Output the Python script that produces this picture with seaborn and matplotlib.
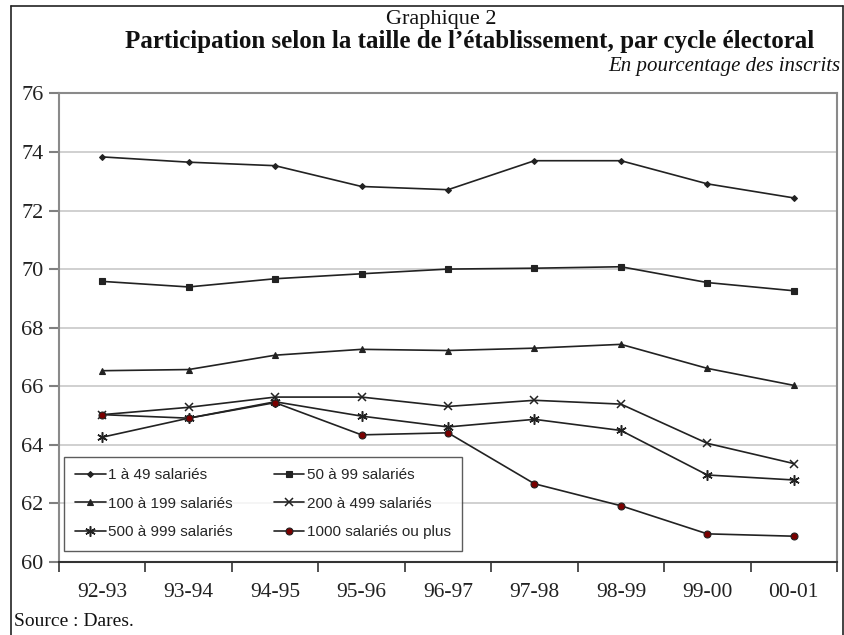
import matplotlib
matplotlib.use("Agg")
import matplotlib.pyplot as plt
import seaborn as sns
import pandas as pd
import numpy as np

cycles = ["92-93", "93-94", "94-95", "95-96", "96-97", "97-98", "98-99", "99-00", "00-01"]
s_1_49 = [73.83, 73.65, 73.53, 72.82, 72.71, 73.70, 73.70, 72.91, 72.43]
s_50_99 = [69.58, 69.39, 69.67, 69.84, 70.00, 70.03, 70.08, 69.54, 69.26]
s_100_199 = [66.53, 66.57, 67.06, 67.26, 67.22, 67.30, 67.43, 66.61, 66.03]
s_200_499 = [65.03, 65.28, 65.63, 65.63, 65.31, 65.52, 65.39, 64.05, 63.36]
s_500_999 = [64.26, 64.91, 65.47, 64.98, 64.61, 64.87, 64.49, 62.97, 62.80]
s_1000 = [65.03, 64.91, 65.44, 64.34, 64.41, 62.67, 61.92, 60.96, 60.88]

names = ["1 à 49 salariés", "50 à 99 salariés", "100 à 199 salariés",
         "200 à 499 salariés", "500 à 999 salariés", "1000 salariés ou plus"]
series = [s_1_49, s_50_99, s_100_199, s_200_499, s_500_999, s_1000]

rows = []
for n, vals in zip(names, series):
    for c, v in zip(cycles, vals):
        rows.append({"cycle": c, "serie": n, "value": v})
df = pd.DataFrame(rows)

sns.set_theme(style="white")
plt.rcParams["font.family"] = ["Liberation Serif", "DejaVu Serif"]

fig = plt.figure(figsize=(8.44, 6.35), dpi=100)
ax = fig.add_axes([0.0699, 0.115, 0.9218, 0.738])

styles = {
    names[0]: dict(marker="D", ms=3.0, mfc="#222222", mec="#222222"),
    names[1]: dict(marker="s", ms=4.5, mfc="#222222", mec="#222222"),
    names[2]: dict(marker="^", ms=5.0, mfc="#222222", mec="#222222"),
    names[3]: dict(marker="x", ms=5.5, mfc="#222222", mec="#222222", mew=1.1),
    names[4]: dict(marker=(6, 2, 0), ms=7.5, mfc="#222222", mec="#222222", mew=1.1),
    names[5]: dict(marker="o", ms=5.0, mfc="#7a0000", mec="#222222", mew=0.8),
}

for n in names:
    sub = df[df["serie"] == n]
    st = styles[n]
    sns.lineplot(data=sub, x="cycle", y="value", ax=ax, color="#222222", lw=1.2,
                 marker=st["marker"], markersize=st["ms"],
                 markerfacecolor=st["mfc"], markeredgecolor=st["mec"],
                 markeredgewidth=st.get("mew", 0.8), label=n, sort=False)

ax.set_xlim(-0.5, len(cycles) - 0.5)
ax.set_ylim(60, 76)
ax.set_yticks(np.arange(60, 77, 2))
ax.set_xticks(range(len(cycles)))
ax.set_xticklabels(cycles)
ax.set_xticks(np.arange(-0.5, len(cycles), 1), minor=True)
ax.tick_params(axis="x", which="major", length=0, pad=15, labelsize=15.5, colors="#222222")
ax.tick_params(axis="x", which="minor", length=7, width=1.2, direction="out", color="#333333", bottom=True)
ax.tick_params(axis="y", length=7, width=1.5, direction="out", color="#808080", labelsize=16,
               labelcolor="#222222", left=True, pad=4)
ax.set_xlabel("")
ax.set_ylabel("")
ax.grid(axis="y", color="#c8c8c8", lw=1.2)
ax.grid(axis="x", visible=False)
for side in ["left", "top", "right"]:
    ax.spines[side].set_color("#8a8a8a")
    ax.spines[side].set_linewidth(1.5)
ax.spines["bottom"].set_color("#333333")
ax.spines["bottom"].set_linewidth(1.5)

handles, labels = ax.get_legend_handles_labels()
order = [0, 2, 4, 1, 3, 5]
leg = ax.legend([handles[i] for i in order], [labels[i] for i in order], ncol=2,
                loc="lower left", bbox_to_anchor=(0.006, 0.024), borderaxespad=0,
                frameon=True, fancybox=False,
                edgecolor="#333333", prop={"family": "Liberation Sans", "size": 11},
                handlelength=2.0, handletextpad=0.15, columnspacing=2.7, labelspacing=0.95,
                borderpad=0.75)
leg.get_frame().set_linewidth(1.0)

fig.text(0.523, 0.970, "Graphique 2", ha="center", va="center", fontsize=16, color="#111111")
fig.text(0.556, 0.935, "Participation selon la taille de l\u2019établissement, par cycle électoral",
         ha="center", va="center", fontsize=18, fontweight="bold", color="#111111")
fig.text(0.996, 0.895, "En pourcentage des inscrits", ha="right", va="center", fontsize=15,
         style="italic", color="#111111")
fig.text(0.017, 0.021, "Source : Dares.", ha="left", va="center", fontsize=14, color="#111111")

# figure frame
fig.add_artist(plt.Line2D([0.013, 0.013], [0, 0.99], color="#222222", lw=1.2, transform=fig.transFigure))
fig.add_artist(plt.Line2D([0.013, 0.999], [0.99, 0.99], color="#222222", lw=1.2, transform=fig.transFigure))
fig.add_artist(plt.Line2D([0.999, 0.999], [0, 0.99], color="#222222", lw=1.2, transform=fig.transFigure))

fig.savefig("out.png", dpi=100)
